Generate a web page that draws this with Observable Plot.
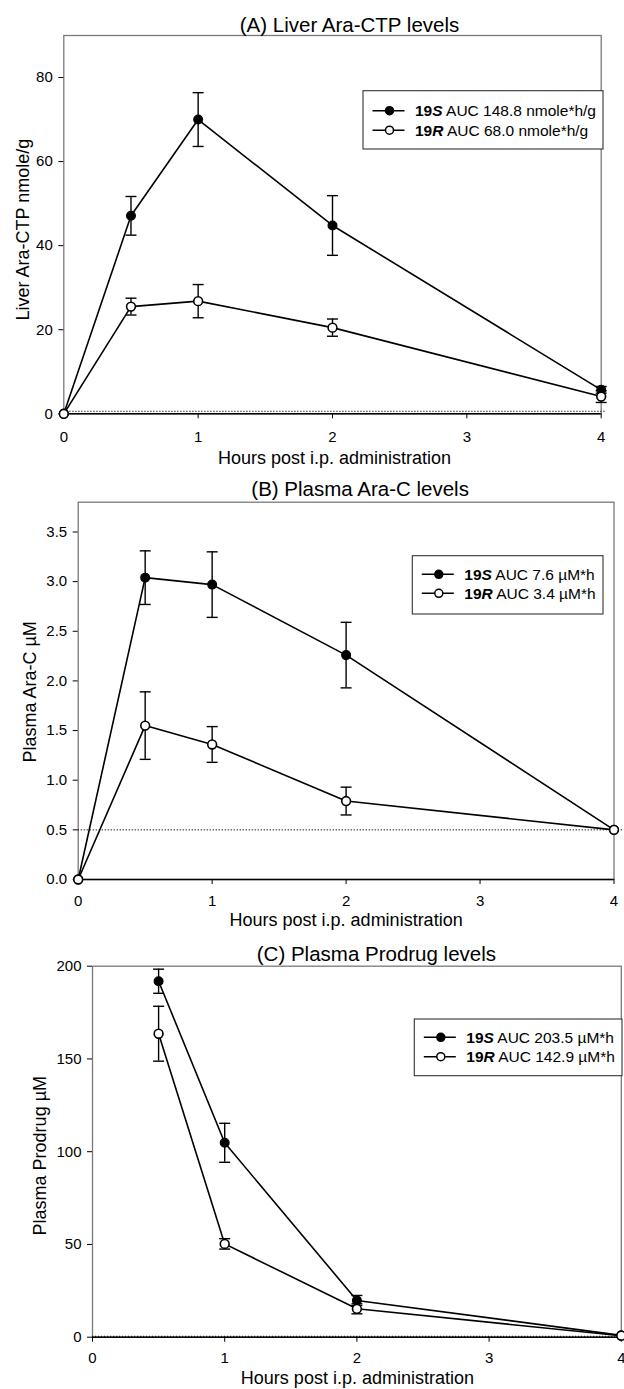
<!DOCTYPE html>
<html>
<head>
<meta charset="utf-8">
<script src="https://cdn.jsdelivr.net/npm/d3@7"></script>
<script src="https://cdn.jsdelivr.net/npm/@observablehq/plot@0.6"></script>
<style>
  html, body { margin: 0; padding: 0; background: #fff; }
  #chart { position: relative; width: 624px; height: 1389px; overflow: hidden; }
  #chart svg { display: block; }
</style>
</head>
<body>
<div id="chart"></div>
<script>
// ---------- data ----------
const hours = [0, 0.5, 1, 2, 4];
const hourTicks = [0, 1, 2, 3, 4];

// (A) Liver Ara-CTP nmole/g
const liverS = [0, 47.1, 70.0, 44.8, 5.7];
const liverSErr = [0, 4.6, 6.4, 7.1, 0.8];
const liverR = [0, 25.5, 26.8, 20.5, 4.1];
const liverRErr = [0, 2.0, 3.95, 2.05, 1.4];
const liverTicks = [0, 20, 40, 60, 80];
const liverLoq = 0.6;

// (B) Plasma Ara-C µM
const plasmaS = [0, 3.04, 2.97, 2.26, 0.5];
const plasmaSErr = [0, 0.27, 0.33, 0.33, 0];
const plasmaR = [0, 1.55, 1.36, 0.79, 0.5];
const plasmaRErr = [0, 0.34, 0.18, 0.14, 0];
const plasmaTicks = [0, 0.5, 1, 1.5, 2, 2.5, 3, 3.5];
const plasmaLoq = 0.5;

// (C) Plasma Prodrug µM
const prodrugHours = [0.5, 1, 2, 4];
const prodrugS = [191.9, 104.8, 19.8, 1.0];
const prodrugSErr = [6.5, 10.5, 2.7, 0];
const prodrugR = [163.6, 50.3, 15.3, 0.8];
const prodrugRErr = [14.8, 2.8, 2.7, 0];
const prodrugTicks = [0, 50, 100, 150, 200];
const prodrugLoq = 0.5;

const legendA = [["S", " AUC 148.8 nmole*h/g"], ["R", " AUC 68.0 nmole*h/g"]];
const legendB = [["S", " AUC 7.6 \u00b5M*h"], ["R", " AUC 3.4 \u00b5M*h"]];
const legendC = [["S", " AUC 203.5 \u00b5M*h"], ["R", " AUC 142.9 \u00b5M*h"]];

// ---------- helpers ----------
const FONT = "'Liberation Sans', Arial, Helvetica, sans-serif";

function rows(xs, ys, es, series) {
  return xs.map((x, i) => ({x, y: ys[i], e: es[i], series}));
}

const capSymbol = {
  draw(ctx, size) {
    const w = Math.sqrt(size / Math.PI);
    ctx.moveTo(-w, 0);
    ctx.lineTo(w, 0);
  }
};

function panel(cfg) {
  const S = rows(cfg.xs, cfg.sVals, cfg.sErr, "19S");
  const R = rows(cfg.xs, cfg.rVals, cfg.rErr, "19R");
  const all = S.concat(R);
  const withErr = all.filter(d => d.e > 0);
  const svg = Plot.plot({
    width: 624,
    height: cfg.height,
    marginTop: cfg.mt, marginBottom: cfg.mb, marginLeft: cfg.ml, marginRight: cfg.mr,
    style: {fontFamily: FONT, fontSize: "15px", color: "#000", background: "#fff", overflow: "visible"},
    x: {domain: [0, 4]},
    y: {domain: cfg.yDomain},
    marks: [
      Plot.frame({stroke: "#7a7a7a", strokeWidth: 1.3}),
      Plot.ruleY([cfg.loq], {x1: 0, x2: cfg.loqX2, stroke: "#000", strokeWidth: 1, strokeDasharray: "1.2,1.8"}),
      Plot.ruleY([cfg.yDomain[0]], {stroke: "#000", strokeWidth: 1.4}),
      Plot.axisX({ticks: hourTicks, tickSize: 5, tickPadding: cfg.xPad, label: null, tickFormat: d => String(d), fontSize: 15}),
      Plot.axisY({ticks: cfg.yTicks, tickSize: 5, tickPadding: 6, label: null, tickFormat: cfg.yFormat, fontSize: 15}),
      Plot.line(S, {x: "x", y: "y", stroke: "#000", strokeWidth: 1.6}),
      Plot.line(R, {x: "x", y: "y", stroke: "#000", strokeWidth: 1.6}),
      Plot.ruleX(withErr, {x: "x", y1: d => d.y - d.e, y2: d => d.y + d.e, stroke: "#000", strokeWidth: 1.4}),
      Plot.dot(withErr, {x: "x", y: d => d.y + d.e, symbol: capSymbol, r: 5.5, stroke: "#000", strokeWidth: 1.4, fill: "none"}),
      Plot.dot(withErr, {x: "x", y: d => d.y - d.e, symbol: capSymbol, r: 5.5, stroke: "#000", strokeWidth: 1.4, fill: "none"}),
      Plot.dot(S, {x: "x", y: "y", r: 4.4, fill: "#000", stroke: "#000", strokeWidth: 1.2}),
      Plot.dot(R, {x: "x", y: "y", r: 4.4, fill: "#fff", stroke: "#000", strokeWidth: 1.6}),
      Plot.text([cfg.title], {frameAnchor: "top", text: d => d, dx: cfg.titleDx, dy: cfg.titleDy, lineAnchor: "bottom", textAnchor: "middle", fontSize: 20.5, fill: "#000"}),
      Plot.text([cfg.xLabel], {frameAnchor: "bottom", text: d => d, dx: cfg.xLabDx, dy: cfg.xLabDy, lineAnchor: "bottom", textAnchor: "middle", fontSize: 18, fill: "#000"}),
      Plot.text([cfg.yLabel], {frameAnchor: "left", text: d => d, dx: cfg.yLabDx, dy: cfg.yLabDy, rotate: -90, lineAnchor: "middle", textAnchor: "middle", fontSize: 18, fill: "#000"})
    ]
  });
  // legend box
  const g = d3.select(svg).append("g")
    .attr("font-family", FONT).attr("font-size", 15.5).attr("text-anchor", "start");
  const L = cfg.legend;
  g.append("rect").attr("x", L.x).attr("y", L.y).attr("width", L.w).attr("height", L.h)
    .attr("fill", "#fff").attr("stroke", "#333").attr("stroke-width", 1.1);
  cfg.legendText.forEach((lab, i) => {
    const cy = L.y + L.rows[i];
    g.append("line").attr("x1", L.x + 9.5).attr("x2", L.x + 41.5).attr("y1", cy).attr("y2", cy)
      .attr("stroke", "#000").attr("stroke-width", 1.5);
    g.append("circle").attr("cx", L.x + 26.5).attr("cy", cy).attr("r", 4)
      .attr("fill", i === 0 ? "#000" : "#fff").attr("stroke", "#000").attr("stroke-width", 1.5);
    const t = g.append("text").attr("x", L.x + 52).attr("y", cy + 5.5)
      .attr("fill", "#000").attr("text-anchor", "start");
    t.append("tspan").attr("font-weight", "bold").text("19");
    t.append("tspan").attr("font-weight", "bold").attr("font-style", "italic").text(lab[0]);
    t.append("tspan").text(lab[1]);
  });
  return svg;
}

const chart = document.getElementById("chart");

chart.appendChild(panel({
  height: 472, mt: 35, mb: 58.7, ml: 63.3, mr: 23.3,
  xs: hours, sVals: liverS, sErr: liverSErr, rVals: liverR, rErr: liverRErr,
  yDomain: [0, 90], yTicks: liverTicks, yFormat: d => String(d), loq: liverLoq, loqX2: 4.04,
  xPad: 13,
  title: "(A) Liver Ara-CTP levels", titleDx: 17, titleDy: -4,
  xLabel: "Hours post i.p. administration", xLabDx: 2, xLabDy: 50,
  yLabel: "Liver Ara-CTP nmole/g", yLabDx: -41, yLabDy: 5,
  legend: {x: 363, y: 90.7, w: 240, h: 58.3, rows: [20, 39.5]},
  legendText: legendA
}));

chart.appendChild(panel({
  height: 463, mt: 29.7, mb: 56, ml: 77.7, mr: 10.5,
  xs: hours, sVals: plasmaS, sErr: plasmaSErr, rVals: plasmaR, rErr: plasmaRErr,
  yDomain: [0, 3.8], yTicks: plasmaTicks, yFormat: d => d.toFixed(1), loq: plasmaLoq, loqX2: 4.075,
  xPad: 11,
  title: "(B) Plasma Ara-C levels", titleDx: 14, titleDy: -6,
  xLabel: "Hours post i.p. administration", xLabDx: 0, xLabDy: 46.5,
  yLabel: "Plasma Ara-C \u00b5M", yLabDx: -48, yLabDy: 1,
  legend: {x: 412.3, y: 83.7, w: 190.7, h: 58.3, rows: [18.6, 37.6]},
  legendText: legendB
}));

chart.appendChild(panel({
  height: 454, mt: 30.7, mb: 52.3, ml: 92, mr: 3.2,
  xs: prodrugHours, sVals: prodrugS, sErr: prodrugSErr, rVals: prodrugR, rErr: prodrugRErr,
  yDomain: [0, 200], yTicks: prodrugTicks, yFormat: d => String(d), loq: prodrugLoq, loqX2: 4,
  xPad: 10,
  title: "(C) Plasma Prodrug levels", titleDx: 19.5, titleDy: -5,
  xLabel: "Hours post i.p. administration", xLabDx: 0.5, xLabDy: 46.5,
  yLabel: "Plasma Prodrug \u00b5M", yLabDx: -52, yLabDy: 4,
  legend: {x: 414.3, y: 84, w: 207.7, h: 56.7, rows: [18.3, 37.7]},
  legendText: legendC
}));
</script>
</body>
</html>
